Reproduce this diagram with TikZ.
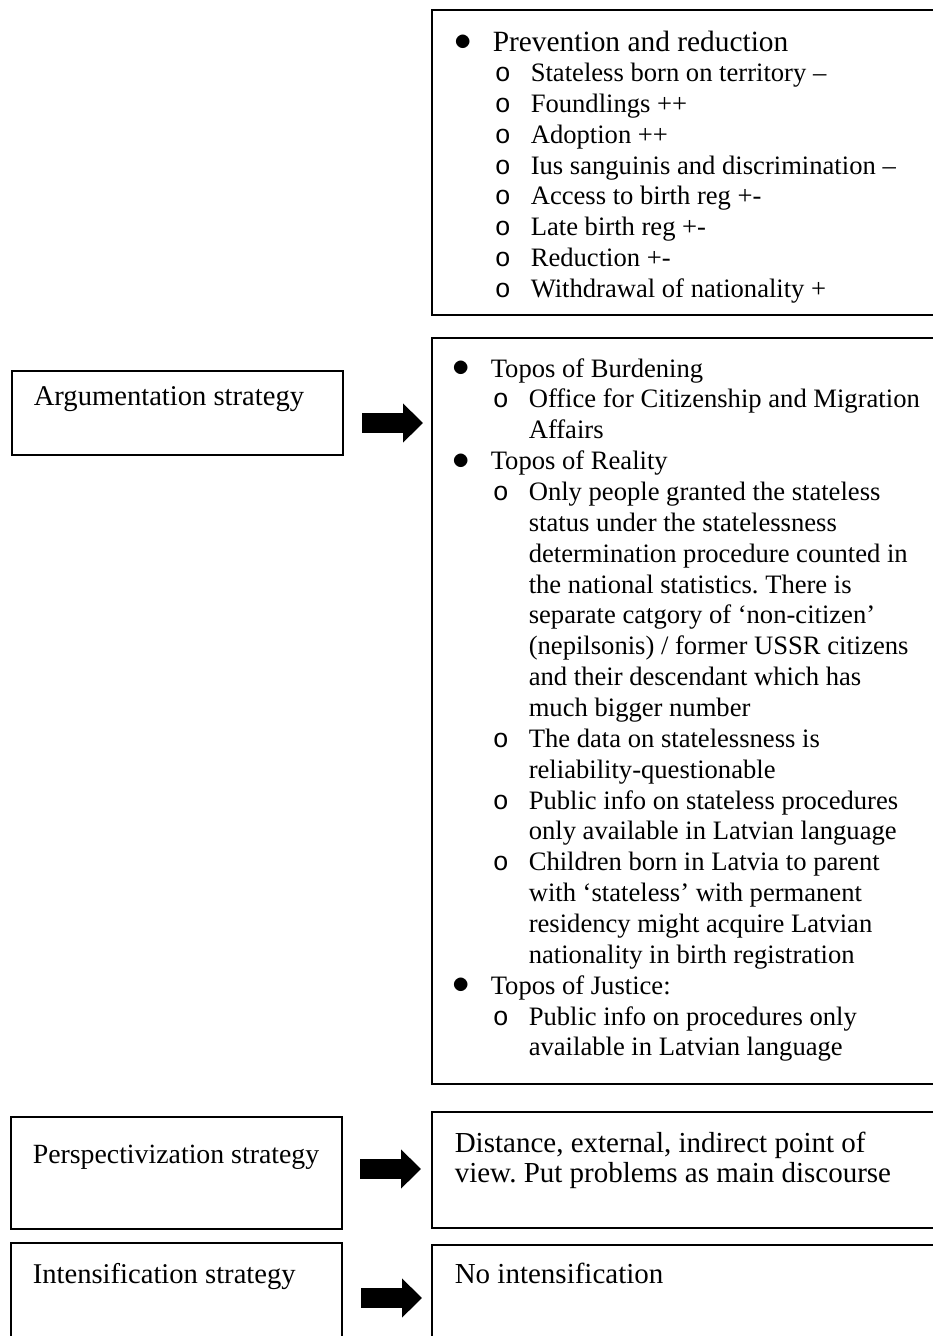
\documentclass[tikz,border=0pt]{standalone}
\usepackage{graphicx}
\usepackage{fontspec}
\setmainfont{Liberation Serif}
\setmonofont{Liberation Mono}
\usetikzlibrary{arrows.meta,positioning}
\frenchspacing

\newcommand{\lvlone}[1]{\makebox[38pt][l]{\raisebox{0.5pt}{\scalebox{1.4}{$\bullet$}}}#1}
\newcommand{\lvltwo}[1]{\hspace*{40pt}\makebox[36pt][l]{\texttt{o}}#1}
\newcommand{\lvlcont}[1]{\hspace*{76pt}#1}

\begin{document}
\begin{tikzpicture}[
    x=1pt, y=-1pt,
    line width=1.6pt,
    frame/.style={draw, inner sep=0pt, outer sep=0pt, anchor=north west},
    listtxt/.style={inner sep=0pt, anchor=base west, font=\fontsize{26.6}{30.86}\selectfont},
    bigtxt/.style={inner sep=0pt, anchor=base west, font=\fontsize{29}{30}\selectfont},
    blockarrow/.style={line width=20pt, -{Triangle[length=20pt,width=38pt]}}
]
\useasboundingbox (0,0) rectangle (933,1336);

% right column
\node[frame, minimum width=520pt, minimum height=305pt] (prevbox) at (432,10) {};
\node[frame, minimum width=520pt, minimum height=746pt] (toposbox) at (432,338) {};
\node[frame, minimum width=520pt, minimum height=116pt] (perspres) at (432,1112) {};
\node[frame, minimum width=520pt, minimum height=110pt] (intres) at (432,1245) {};

\node[listtxt, font=\fontsize{26.6}{30.75}\selectfont] (prevtxt) at (454,51) {\begin{tabular}[t]{@{}l@{}}
{\fontsize{29.4}{30.75}\selectfont\lvlone{Prevention and reduction}}\\
\lvltwo{Stateless born on territory –}\\
\lvltwo{Foundlings ++}\\
\lvltwo{Adoption ++}\\
\lvltwo{Ius sanguinis and discrimination –}\\
\lvltwo{Access to birth reg +-}\\
\lvltwo{Late birth reg +-}\\
\lvltwo{Reduction +-}\\
\lvltwo{Withdrawal of nationality +}
\end{tabular}};

\node[listtxt] (topostxt) at (452,377) {\begin{tabular}[t]{@{}l@{}}
\lvlone{Topos of Burdening}\\
\lvltwo{Office for Citizenship and Migration}\\
\lvlcont{Affairs}\\
\lvlone{Topos of Reality}\\
\lvltwo{Only people granted the stateless}\\
\lvlcont{status under the statelessness}\\
\lvlcont{determination procedure counted in}\\
\lvlcont{the national statistics. There is}\\
\lvlcont{separate catgory of ‘non-citizen’}\\
\lvlcont{(nepilsonis) / former USSR citizens}\\
\lvlcont{and their descendant which has}\\
\lvlcont{much bigger number}\\
\lvltwo{The data on statelessness is}\\
\lvlcont{reliability-questionable}\\
\lvltwo{Public info on stateless procedures}\\
\lvlcont{only available in Latvian language}\\
\lvltwo{Children born in Latvia to parent}\\
\lvlcont{with ‘stateless’ with permanent}\\
\lvlcont{residency might acquire Latvian}\\
\lvlcont{nationality in birth registration}\\
\lvlone{Topos of Justice:}\\
\lvltwo{Public info on procedures only}\\
\lvlcont{available in Latvian language}
\end{tabular}};

\node[bigtxt] (persptxt) at (454,1152) {\begin{tabular}[t]{@{}l@{}}
Distance, external, indirect point of\\
view. Put problems as main discourse
\end{tabular}};
\node[bigtxt] (inttxt) at (454,1283) {No intensification};

% left column
\node[frame, minimum width=331pt, minimum height=84pt] (argbox) at (12,371) {};
\node[frame, minimum width=331pt, minimum height=112pt] (perspbox) at (11,1117) {};
\node[frame, minimum width=331pt, minimum height=110pt] (intbox) at (11,1243) {};

\node[bigtxt, font=\fontsize{28.6}{30}\selectfont] (arglabel) at (33,405) {Argumentation strategy};
\node[bigtxt, font=\fontsize{27.8}{30}\selectfont] (persplabel) at (32,1163) {Perspectivization strategy};
\node[bigtxt, font=\fontsize{28.6}{30}\selectfont] (intlabel) at (32,1283) {Intensification strategy};

% block arrows
\coordinate (argtail) at (362,423);
\coordinate (arghead) at (423,423);
\coordinate (persptail) at (360,1169);
\coordinate (persphead) at (421,1169);
\coordinate (inttail) at (361,1298);
\coordinate (inthead) at (422,1298);
\draw[blockarrow] (argtail) -- (arghead);
\draw[blockarrow] (persptail) -- (persphead);
\draw[blockarrow] (inttail) -- (inthead);
\end{tikzpicture}
\end{document}
